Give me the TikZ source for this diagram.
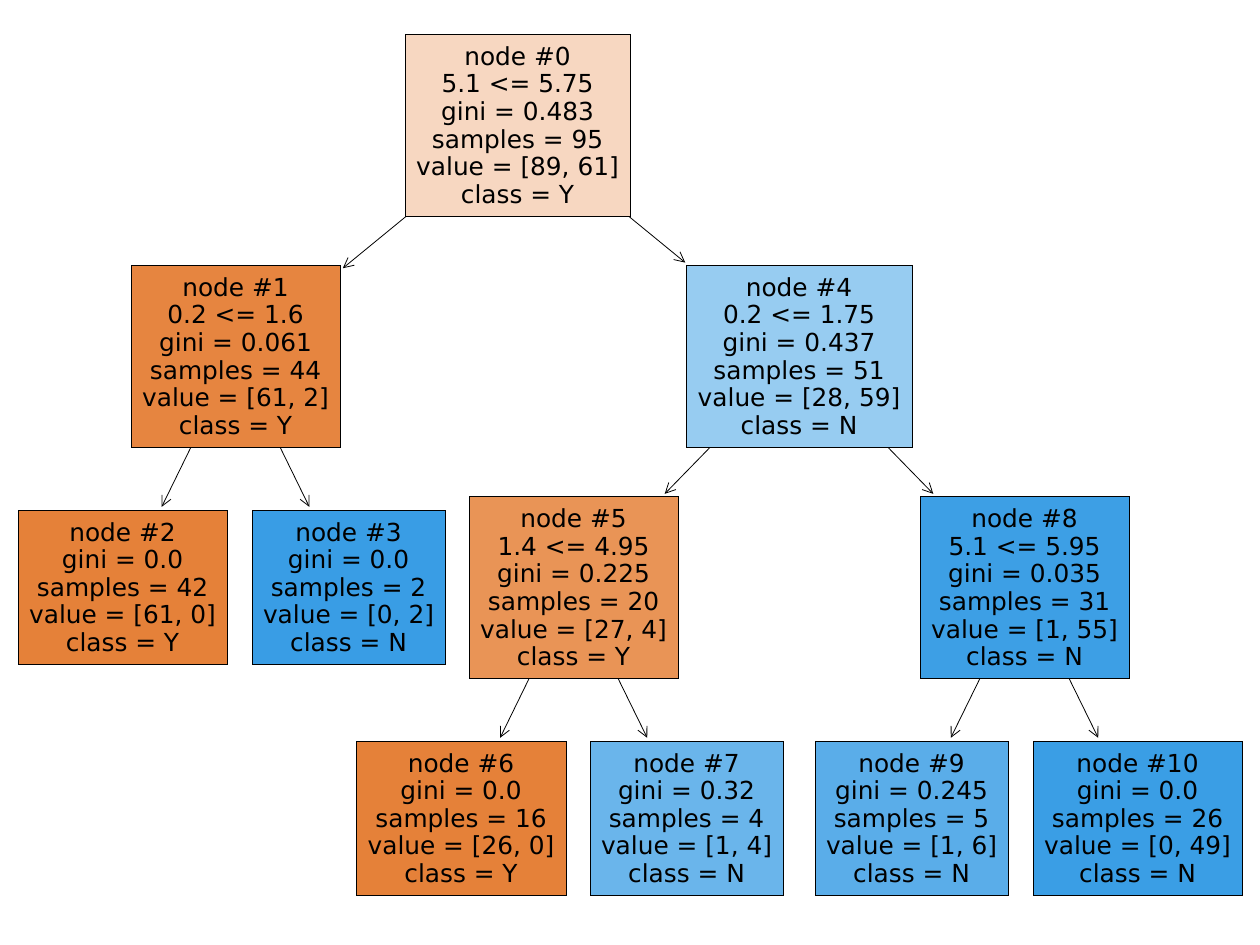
\documentclass[tikz,border=0pt]{standalone}
\usepackage{fontspec}
\setmainfont{DejaVu Sans}
\usetikzlibrary{arrows.meta}
\definecolor{c0}{RGB}{247,215,193}
\definecolor{c1}{RGB}{230,133,64}
\definecolor{c2}{RGB}{229,129,57}
\definecolor{c3}{RGB}{57,157,229}
\definecolor{c4}{RGB}{151,204,241}
\definecolor{c5}{RGB}{233,148,86}
\definecolor{c7}{RGB}{106,181,235}
\definecolor{c8}{RGB}{61,159,229}
\definecolor{c9}{RGB}{90,173,233}
\definecolor{c10}{RGB}{58,158,229}

\begin{document}
\begin{tikzpicture}[x=0.5pt, y=-0.5pt, >={Straight Barb[length=5pt,width=5pt]}, thin,
    tree node/.style={rectangle,draw,line width=0.5pt,align=center,inner sep=0pt,
      font=\fontsize{12.4}{13.8}\selectfont,minimum height=91pt},
    leaf node/.style={tree node,minimum height=77pt}]
    \useasboundingbox (0,0) rectangle (1260,944);
    \node[tree node,fill=c0,minimum width=112.5pt] (0) at (517.5,125) {node \#0\\5.1 <= 5.75\\gini = 0.483\\samples = 95\\value = [89, 61]\\class = Y};
    \node[tree node,fill=c1,minimum width=104.5pt] (1) at (235.5,356) {node \#1\\0.2 <= 1.6\\gini = 0.061\\samples = 44\\value = [61, 2]\\class = Y};
    \node[tree node,fill=c4,minimum width=113pt] (4) at (799,356) {node \#4\\0.2 <= 1.75\\gini = 0.437\\samples = 51\\value = [28, 59]\\class = N};
    \node[leaf node,fill=c2,minimum width=104.5pt] (2) at (122.5,587) {node \#2\\gini = 0.0\\samples = 42\\value = [61, 0]\\class = Y};
    \node[leaf node,fill=c3,minimum width=96.5pt] (3) at (348.5,587) {node \#3\\gini = 0.0\\samples = 2\\value = [0, 2]\\class = N};
    \node[tree node,fill=c5,minimum width=104.5pt] (5) at (573.5,587.5) {node \#5\\1.4 <= 4.95\\gini = 0.225\\samples = 20\\value = [27, 4]\\class = Y};
    \node[tree node,fill=c8,minimum width=104.5pt] (8) at (1024.5,587.5) {node \#8\\5.1 <= 5.95\\gini = 0.035\\samples = 31\\value = [1, 55]\\class = N};
    \node[leaf node,fill=c2,minimum width=105pt] (6) at (461,818) {node \#6\\gini = 0.0\\samples = 16\\value = [26, 0]\\class = Y};
    \node[leaf node,fill=c7,minimum width=96.5pt] (7) at (686.5,818) {node \#7\\gini = 0.32\\samples = 4\\value = [1, 4]\\class = N};
    \node[leaf node,fill=c9,minimum width=96.5pt] (9) at (911.5,818) {node \#9\\gini = 0.245\\samples = 5\\value = [1, 6]\\class = N};
    \node[leaf node,fill=c10,minimum width=104.5pt] (10) at (1137.5,818) {node \#10\\gini = 0.0\\samples = 26\\value = [0, 49]\\class = N};
    \path[->, shorten >=1.5pt]
    (0) edge (1)
    (0) edge (4)
    (1) edge (2)
    (1) edge (3)
    (4) edge (5)
    (4) edge (8)
    (5) edge (6)
    (5) edge (7)
    (8) edge (9)
    (8) edge (10);
\end{tikzpicture}
\end{document}
